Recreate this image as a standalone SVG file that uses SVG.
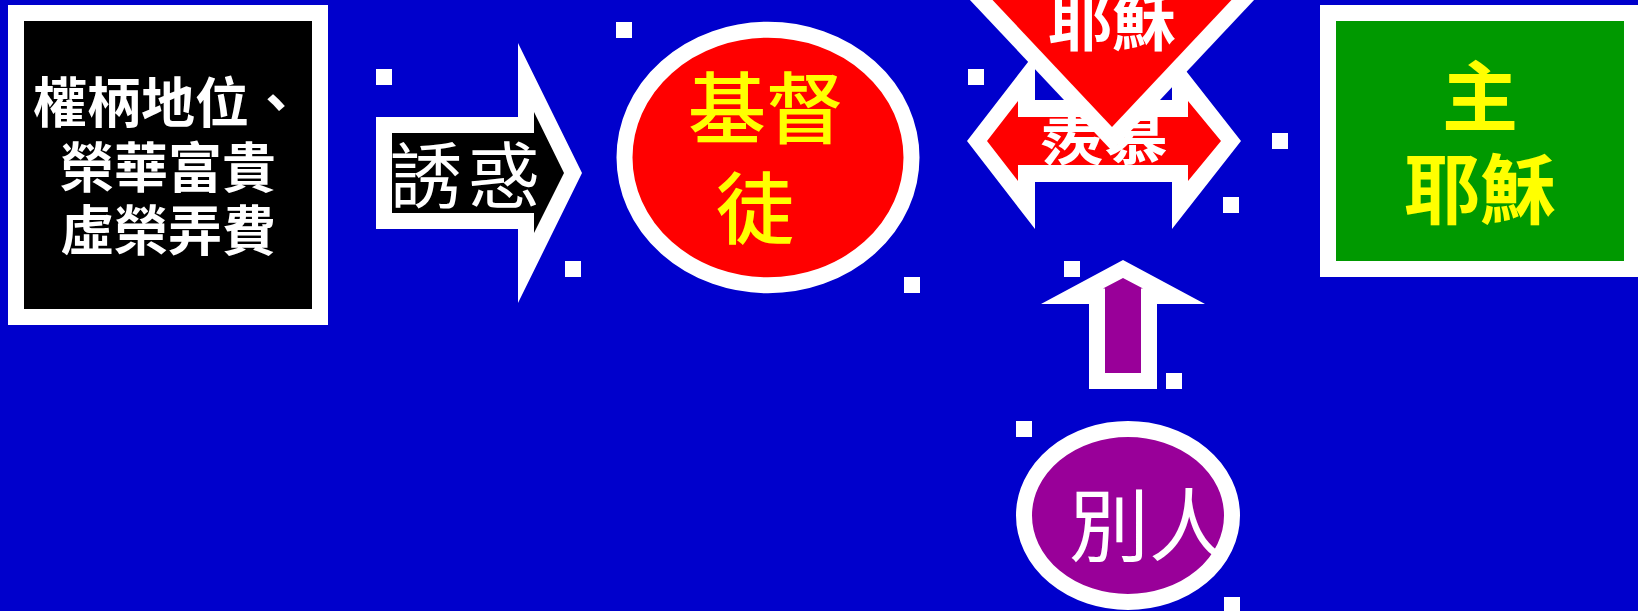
<svg xmlns="http://www.w3.org/2000/svg" width="1638" height="611" viewBox="0 0 1638 611">
<style>
.t{font-family:'Noto Sans CJK TC','Noto Sans CJK SC',sans-serif;}
.b{font-weight:bold;}
.m{font-weight:500;}
.w{fill:#FFFFFF;}
.y{fill:#FFFF00;}
.h{fill:#FFFFFF;}
</style>
<rect x="0" y="0" width="1638" height="611" fill="#0000CC"/>

<g id="node-power">
<rect x="16" y="13" width="304" height="304" fill="#000000" stroke="#FFFFFF" stroke-width="16"/>
<text class="t b w" font-size="54" text-anchor="middle" x="168" y="123">權柄地位、</text>
<text class="t b w" font-size="54" text-anchor="middle" x="168" y="188">榮華富貴</text>
<text class="t b w" font-size="54" text-anchor="middle" x="168" y="251">虛榮弄費</text>
</g>

<g id="node-christian">
<ellipse cx="768" cy="157.5" rx="143.5" ry="127.75" fill="#FF0000" stroke="#FFFFFF" stroke-width="16"/>
<text class="t m y" font-size="78" text-anchor="middle" x="766" y="138">基督</text>
<text class="t m y" font-size="78" text-anchor="middle" x="755" y="238">徒</text>
</g>

<g id="node-lord">
<rect x="1328" y="13" width="304" height="256" fill="#009900" stroke="#FFFFFF" stroke-width="16"/>
<text class="t b y" font-size="76" text-anchor="middle" x="1480" y="125">主</text>
<text class="t b y" font-size="76" text-anchor="middle" x="1480" y="218">耶穌</text>
</g>

<g id="node-others">
<ellipse cx="1128" cy="515.5" rx="104" ry="86.5" fill="#990099" stroke="#FFFFFF" stroke-width="16"/>
<text class="t w" x="1069" y="555" font-size="80">別人</text>
</g>

<g id="connectors">
<g id="arrow-temptation">
<polygon points="376,117 518,117 518,43 582,173 518,303 518,229 376,229" fill="#FFFFFF"/>
<polygon points="392,133 534,133 534,112 564,173 534,233 534,213 392,213" fill="#000000"/>
<text class="t w" x="390" y="202" font-size="72" letter-spacing="6">誘惑</text>
</g>
<g id="arrow-up">
<polygon points="1123,260 1205,304 1157,304 1157,389 1089,389 1089,304 1041,304" fill="#FFFFFF"/>
<polygon points="1123,278 1143,288.5 1141,288.5 1141,373 1105,373 1105,288.5 1103,288.5" fill="#990099"/>
</g>
<g id="arrow-admire">
<polygon points="967,141 1035,53 1035,100 1172,100 1172,53 1241,141 1172,229 1172,182 1035,182 1035,229" fill="#FFFFFF"/>
<polygon points="987,141 1018,101 1018,117 1188,117 1188,101 1221,141 1188,181 1188,165 1018,165 1018,181" fill="#FF0000"/>
<text class="t b w" x="1104" y="159" font-size="64" text-anchor="middle">羨慕</text>
</g>
<g id="arrow-jesus">
<polygon points="953,-18 1271,-18 1112,151" fill="#FFFFFF"/>
<polygon points="975.6,-18 1248.4,-18 1112,127" fill="#FF0000"/>
<text class="t b w" x="1112" y="45" font-size="64" text-anchor="middle">耶穌</text>
</g>
</g>

<g id="handles" class="h">
<rect x="376" y="69" width="16" height="16"/>
<rect x="565" y="261" width="16" height="16"/>
<rect x="616" y="22" width="16" height="16"/>
<rect x="904" y="277" width="16" height="16"/>
<rect x="968" y="69" width="16" height="16"/>
<rect x="1272" y="133" width="16" height="16"/>
<rect x="1223" y="197" width="16" height="16"/>
<rect x="1064" y="261" width="16" height="16"/>
<rect x="1166" y="373" width="16" height="16"/>
<rect x="1016" y="421" width="16" height="16"/>
<rect x="1224" y="597" width="16" height="16"/>
</g>
</svg>
